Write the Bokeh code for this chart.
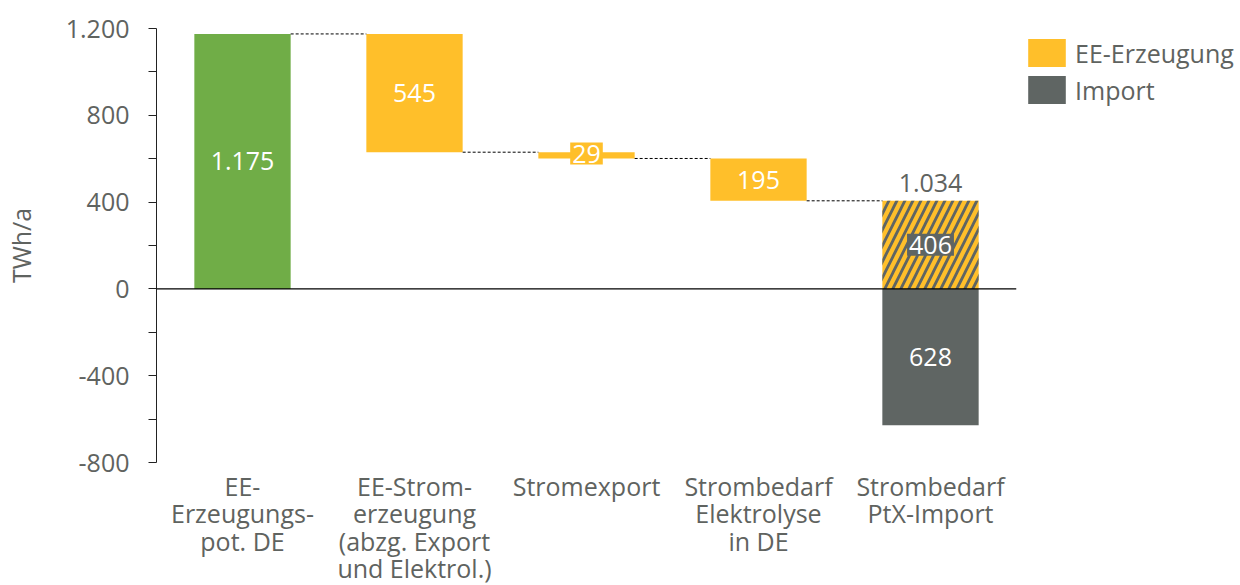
from bokeh.plotting import figure
from bokeh.models import (FixedTicker, LinearAxis, Span, Label, Legend, LegendItem, Range1d)
from bokeh.embed import file_html
from bokeh.resources import INLINE

# ---- data ----
categories = ["EE-\nErzeugungs-\npot. DE",
              "EE-Strom-\nerzeugung\n(abzg. Export\nund Elektrol.)",
              "Stromexport",
              "Strombedarf\nElektrolyse\nin DE",
              "Strombedarf\nPtX-Import"]
potential = 1175
reductions = [545, 29, 195]          # EE-Stromerzeugung, Stromexport, Elektrolyse
ptx_ee = 406                          # PtX from EE (hatched)
ptx_import = 628                      # PtX import (below zero)
ptx_total = 1034
y_ticks = [-800, -600, -400, -200, 0, 200, 400, 600, 800, 1000, 1200]
y_tick_labels = ["-800", "", "-400", "", "0", "", "400", "", "800", "", "1.200"]
legend_labels = ["EE-Erzeugung", "Import"]

GREEN = "#70AD47"
YELLOW = "#FFBF2A"
GRAY = "#5F6563"
TXT = "#5F6360"
FONT = "Open Sans"
FS = "25px"

def fmt(v):
    return f"{v:,}".replace(",", ".")

W = 0.56
xs = [i + 0.5 for i in range(len(categories))]

p = figure(frame_width=860, frame_height=434, output_backend="svg", toolbar_location=None,
           x_range=Range1d(0, 5), y_range=Range1d(-800, 1200),
           min_border_left=155, min_border_right=0, min_border_top=28, min_border_bottom=0,
           x_axis_location=None, y_axis_location=None)
p.outline_line_color = None
p.xgrid.visible = False
p.ygrid.visible = False
p.background_fill_color = "white"
p.border_fill_color = "white"

# waterfall tops/bottoms
tops = [potential]
bottoms = [0]
level = potential
for r in reductions:
    tops.append(level)
    level = level - r
    bottoms.append(level)

p.vbar(x=xs[0], top=tops[0], bottom=bottoms[0], width=W, fill_color=GREEN, line_color=None)
r_ee = p.vbar(x=xs[1:4], top=tops[1:], bottom=bottoms[1:], width=W, fill_color=YELLOW, line_color=None)
p.vbar(x=xs[4], top=ptx_ee, bottom=0, width=W, fill_color=YELLOW, line_color=None,
       hatch_pattern="/", hatch_color=GRAY, hatch_scale=16, hatch_weight=2.8)
r_imp = p.vbar(x=xs[4], top=0, bottom=-ptx_import, width=W, fill_color=GRAY, line_color=None)

# connectors
levels = [potential] + bottoms[1:]
p.segment(x0=[x + W / 2 for x in xs[:4]], x1=[x - W / 2 for x in xs[1:]],
          y0=levels, y1=levels, line_color="black", line_width=1, line_dash="3 2")

p.add_layout(Span(location=0, dimension="width", line_color="black", line_width=1.2))

# value labels
def lab(x, y, text, color="white", bg=None):
    kw = {}
    if bg is not None:
        kw = dict(background_fill_color=bg, padding=2)
    p.add_layout(Label(x=x, y=y, text=text, text_color=color, text_font=FONT,
                       text_font_size=FS, text_align="center", text_baseline="middle", **kw))

lab(xs[0], (tops[0] + bottoms[0]) / 2, fmt(potential))
lab(xs[1], (tops[1] + bottoms[1]) / 2, fmt(reductions[0]))
lab(xs[2], (tops[2] + bottoms[2]) / 2 + 8, fmt(reductions[1]), bg=YELLOW)
lab(xs[3], (tops[3] + bottoms[3]) / 2, fmt(reductions[2]))
lab(xs[4], ptx_ee / 2, fmt(ptx_ee), bg=GRAY)
lab(xs[4], -ptx_import / 2, fmt(ptx_import))
lab(xs[4], ptx_ee + 80, fmt(ptx_total), color=TXT)

# axes
yax = LinearAxis(ticker=FixedTicker(ticks=y_ticks),
                 major_label_overrides={t: l for t, l in zip(y_ticks, y_tick_labels)})
yax.axis_line_color = "#222222"
yax.major_tick_line_color = "#222222"
yax.major_tick_out = 8
yax.major_tick_in = 0
yax.minor_tick_line_color = None
yax.major_label_text_font = FONT
yax.major_label_text_font_size = FS
yax.major_label_text_color = TXT
yax.major_label_standoff = 19
yax.axis_label = "TWh/a"
yax.axis_label_text_font = FONT
yax.axis_label_text_font_size = FS
yax.axis_label_text_color = TXT
yax.axis_label_text_font_style = "normal"
yax.axis_label_standoff = 25
p.add_layout(yax, "left")

xax = LinearAxis(ticker=FixedTicker(ticks=xs),
                 major_label_overrides={x: c for x, c in zip(xs, categories)})
xax.axis_line_color = None
xax.major_tick_line_color = None
xax.minor_tick_line_color = None
xax.major_label_text_font = FONT
xax.major_label_text_font_size = FS
xax.major_label_text_color = TXT
xax.major_label_text_line_height = 0.81
xax.major_label_standoff = 0
p.add_layout(xax, "below")

legend = Legend(items=[LegendItem(label=legend_labels[0], renderers=[r_ee]),
                       LegendItem(label=legend_labels[1], renderers=[r_imp])],
                location="top_left", orientation="vertical",
                glyph_width=47, glyph_height=35, label_height=35, spacing=2,
                label_text_font=FONT, label_text_font_size=FS, label_text_color=TXT,
                label_standoff=5, padding=0, margin=7,
                border_line_color=None, background_fill_alpha=0)
p.add_layout(legend, "right")

open("out.html", "w").write(file_html(p, INLINE))
